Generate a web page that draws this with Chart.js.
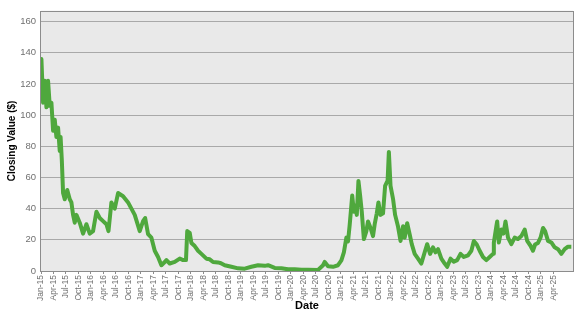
<!DOCTYPE html>
<html>
<head>
<meta charset="utf-8">
<script src="https://cdn.jsdelivr.net/npm/chart.js@4"></script>
<style>
html,body{margin:0;padding:0;background:#fff;}
canvas{display:block;}
</style>
</head>
<body>
<canvas id="c" width="577" height="315"></canvas>
<script>
// Months since Jan 2015
const monthOffsets = [0,0.1,0.5,0.9,1.3,1.7,2.1,2.5,2.9,3.3,3.7,4.1,4.5,4.7,5.0,5.3,5.7,6.3,6.9,7.3,7.7,8.1,8.5,9.3,10.1,10.9,11.7,12.5,13.3,14.1,14.9,15.7,16.2,16.9,17.7,18.5,19.7,20.9,21.7,22.5,23.7,24.5,25.0,25.7,26.5,27.3,28.1,28.9,29.7,30.1,30.9,32.1,33.3,34.1,34.8,35.1,35.7,36.1,36.9,37.7,38.5,39.7,40.5,41.3,42.5,43.2,44.1,45.7,47.3,48.9,50.5,52.1,53.7,54.5,56.1,57.7,59.3,60.9,62.5,64.1,66.5,67.7,68.1,68.9,70.1,71.3,72.1,72.7,73.3,73.7,74.1,74.5,74.7,75.1,75.5,75.8,76.2,76.6,77.0,77.5,78.1,78.5,79.1,79.7,80.1,80.6,81.0,81.5,82.1,82.6,83.2,83.5,83.9,84.5,85.0,85.7,86.3,86.9,87.3,87.9,88.5,89.0,89.7,90.5,91.3,92.1,92.7,93.4,94.1,94.7,95.3,96.1,96.9,97.5,98.3,99.1,99.9,100.7,101.5,102.5,103.3,103.9,104.6,105.3,106.1,106.9,107.7,108.5,108.7,109.3,109.5,109.9,110.5,111.0,111.5,112.1,112.9,113.7,114.5,115.3,116.1,116.7,117.5,118.1,118.6,119.3,119.9,120.5,121.0,121.7,122.5,123.3,124.1,124.9,125.7,126.5,127.3];
const closingValues = [128,136,108,122,105,122,106,108,90,97,86,92,77,86,71,50,46,52,46,44,36,31,36,31,24,30,24,25.6,38,34,32,30,25.6,44,40,50,48,44,40,36,25.6,32,34,23.6,21.4,13,9,3.7,5.8,7,4.8,5.8,8,7,7,25.6,24.5,18,16,13,11,7.9,7.5,5.8,5.5,5,3.7,2.7,1.7,1.5,2.7,3.7,3.3,3.7,2,1.7,1.1,1.1,0.8,0.8,0.7,3.7,5.8,3,2.7,3.7,6.8,12,21.4,19,29.7,42,48.4,38,42,36,57.8,48.4,38,20.5,25.6,31.8,27.6,22.4,30,37,44,36,37,54.6,58,76.4,54.6,46.3,36,28.5,19.3,28.7,21.4,30.7,23.5,17.2,11,7.9,4.8,12,17.2,11,15.2,12,14,7.9,4.8,2.7,7.9,6,7,11,9,10,13,19.3,17,13,9,7,9,11,18.3,28.7,31.8,18.3,26.6,24,31.8,21.4,17.2,21.4,20.5,22.4,26.6,19.3,16.2,13,17,18,21.4,27.6,25.6,19.3,18.3,15.2,14,11,14,15.6,15.6];
const tickLabels = ["Jan-15","Apr-15","Jul-15","Oct-15","Jan-16","Apr-16","Jul-16","Oct-16","Jan-17","Apr-17","Jul-17","Oct-17","Jan-18","Apr-18","Jul-18","Oct-18","Jan-19","Apr-19","Jul-19","Oct-19","Jan-20","Apr-20","Jul-20","Oct-20","Jan-21","Apr-21","Jul-21","Oct-21","Jan-22","Apr-22","Jul-22","Oct-22","Jan-23","Apr-23","Jul-23","Oct-23","Jan-24","Apr-24","Jul-24","Oct-24","Jan-25","Apr-25"];
const yTicks = [0,20,40,60,80,100,120,140,160];

const points = monthOffsets.map((m,i)=>({x:m,y:closingValues[i]}));

const plotBg = {
  id:'plotBg',
  beforeDraw(chart){
    const {ctx, chartArea:a} = chart;
    ctx.save();
    ctx.fillStyle = '#e9e9e9';
    ctx.fillRect(a.left, a.top, a.right-a.left, a.bottom-a.top);
    ctx.restore();
  },
  afterDatasetsDraw(chart){
    const {ctx, chartArea:a} = chart;
    ctx.save();
    ctx.strokeStyle = '#8c8c8c';
    ctx.lineWidth = 1;
    ctx.strokeRect(Math.round(a.left)-0.5, Math.round(a.top)+0.5, Math.round(a.right-a.left)+1, Math.round(a.bottom-a.top));
    ctx.restore();
  }
};

new Chart(document.getElementById('c'), {
  type:'line',
  data:{datasets:[{
    data:points,
    borderColor:'#4fa83d',
    borderWidth:4,
    pointRadius:0,
    tension:0,
    borderJoinStyle:'round',
    fill:false
  }]},
  options:{
    responsive:false,
    animation:false,
    layout:{padding:{top:3,right:4,left:0,bottom:0}},
    plugins:{legend:{display:false},tooltip:{enabled:false}},
    scales:{
      x:{
        type:'linear',
        min:0,
        max:127.7,
        afterBuildTicks(s){ s.ticks = tickLabels.map((_,i)=>({value:i*3})); },
        afterFit(s){ s.height = 44; },
        grid:{display:true,drawOnChartArea:false,drawTicks:true,tickLength:3,color:'#8c8c8c'},
        border:{display:false},
        ticks:{
          autoSkip:false,
          maxRotation:90,minRotation:90,
          padding:1,
          color:'#707070',
          font:{family:'"Liberation Sans Narrow", "Liberation Sans", Arial',size:8.5},
          callback:(v,i)=>tickLabels[i]
        },
        title:{display:true,text:'Date',color:'#000',font:{family:'"Liberation Sans", Arial',size:11,weight:'bold'},padding:{top:0,bottom:2}}
      },
      y:{
        min:0,
        max:167,
        afterBuildTicks(s){ s.ticks = yTicks.map(v=>({value:v})); },
        afterFit(s){ s.width = 41; },
        grid:{color:'#a9a9a9',drawTicks:false,lineWidth:1},
        border:{display:false},
        ticks:{
          padding:5,
          color:'#707070',
          font:{family:'"Liberation Sans", Arial',size:9.5}
        },
        title:{display:true,text:'Closing Value ($)',color:'#000',font:{family:'"Liberation Sans", Arial',size:10,weight:'bold'},padding:{top:6,bottom:0}}
      }
    }
  },
  plugins:[plotBg]
});
</script>
</body>
</html>
